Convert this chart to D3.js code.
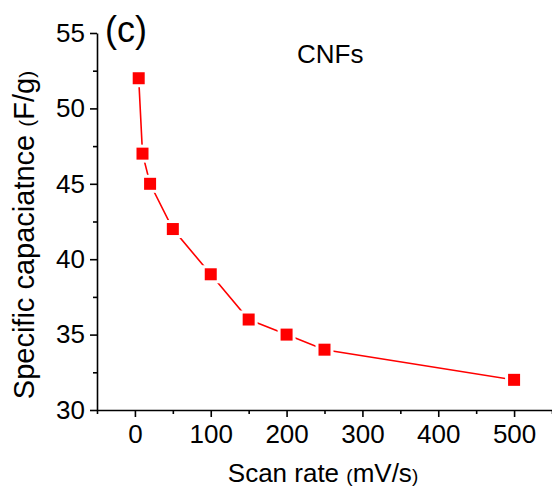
<!DOCTYPE html>
<html>
<head>
<meta charset="utf-8">
<script src="https://cdn.jsdelivr.net/npm/d3@7"></script>
<style>
  body { margin: 0; background: #fff; }
  text { font-family: "Liberation Sans", Arial, sans-serif; }
</style>
</head>
<body>
<div id="chart"></div>
<script>
// scan rate (mV/s) vs specific capacitance (F/g)
var scanRate = [5, 10, 20, 50, 100, 150, 200, 250, 500];
var capacitance = [52, 47, 45, 42, 39, 36, 35, 34, 32];
var xTicks = [0, 100, 200, 300, 400, 500];
var xMinor = [-50, 50, 150, 250, 350, 450, 550];
var yTicks = [30, 35, 40, 45, 50, 55];
var yMinor = [32.5, 37.5, 42.5, 47.5, 52.5];

var W = 552, H = 494;
var margin = {top: 33, right: 0, bottom: 84, left: 97};

var svg = d3.select("#chart")
    .append("svg")
    .attr("width", W)
    .attr("height", H);

var x = d3.scaleLinear()
    .domain([-50, 550])
    .range([margin.left, W - margin.right]);

var y = d3.scaleLinear()
    .domain([30, 55])
    .range([H - margin.bottom, margin.top]);

// minor ticks first, then major
svg.append("g")
    .attr("transform", "translate(0," + y(30) + ")")
    .call(d3.axisBottom(x).tickValues(xMinor).tickSize(4).tickSizeOuter(0).tickFormat(""))
    .call(function (g) { g.select(".domain").remove(); });

svg.append("g")
    .attr("transform", "translate(" + x(-50) + ",0)")
    .call(d3.axisLeft(y).tickValues(yMinor).tickSize(4).tickSizeOuter(0).tickFormat(""))
    .call(function (g) { g.select(".domain").remove(); });

var xAxis = svg.append("g")
    .attr("transform", "translate(0," + y(30) + ")")
    .call(d3.axisBottom(x).tickValues(xTicks).tickSize(7).tickSizeOuter(0).tickPadding(8));

var yAxis = svg.append("g")
    .attr("transform", "translate(" + x(-50) + ",0)")
    .call(d3.axisLeft(y).tickValues(yTicks).tickSize(7).tickSizeOuter(0).tickPadding(5));

svg.selectAll(".tick line, .domain")
    .attr("stroke", "#000")
    .attr("stroke-width", 1.6);

xAxis.selectAll("text").attr("font-size", "26px").attr("fill", "#000")
    .attr("font-family", "Liberation Sans, Arial, sans-serif");
yAxis.selectAll("text").attr("font-size", "26px").attr("fill", "#000")
    .attr("font-family", "Liberation Sans, Arial, sans-serif");

// line
var line = d3.line()
    .x(function (d, i) { return x(scanRate[i]); })
    .y(function (d) { return y(d); });

svg.append("path")
    .datum(capacitance)
    .attr("d", line)
    .attr("fill", "none")
    .attr("stroke", "#ff0000")
    .attr("stroke-width", 1.6);

// markers (white halo makes the small gap at line ends)
var ms = 12;
svg.append("g")
    .selectAll("rect")
    .data(capacitance)
    .enter()
    .append("rect")
    .attr("x", function (d, i) { return x(scanRate[i]) - ms / 2; })
    .attr("y", function (d) { return y(d) - ms / 2; })
    .attr("width", ms)
    .attr("height", ms)
    .attr("fill", "#ff0000")
    .attr("stroke", "#fff")
    .attr("stroke-width", 6)
    .style("paint-order", "stroke");

// axis titles
var xt = svg.append("text")
    .attr("x", 323)
    .attr("y", 482)
    .attr("text-anchor", "middle")
    .attr("font-size", "26px");
xt.append("tspan").text("Scan rate ");
xt.append("tspan").attr("font-size", "19px").text("(");
xt.append("tspan").text("mV/s");
xt.append("tspan").attr("font-size", "19px").text(")");

var yt = svg.append("text")
    .attr("transform", "translate(34,235) rotate(-90)")
    .attr("text-anchor", "middle")
    .attr("font-size", "29px");
yt.append("tspan").text("Specific capaciatnce ");
yt.append("tspan").attr("font-size", "21px").text("(");
yt.append("tspan").text("F/g");
yt.append("tspan").attr("font-size", "21px").text(")");

svg.append("text")
    .attr("x", 105)
    .attr("y", 42)
    .attr("font-size", "36px")
    .text("(c)");

svg.append("text")
    .attr("x", 297)
    .attr("y", 63)
    .attr("font-size", "26px")
    .text("CNFs");
</script>
</body>
</html>
